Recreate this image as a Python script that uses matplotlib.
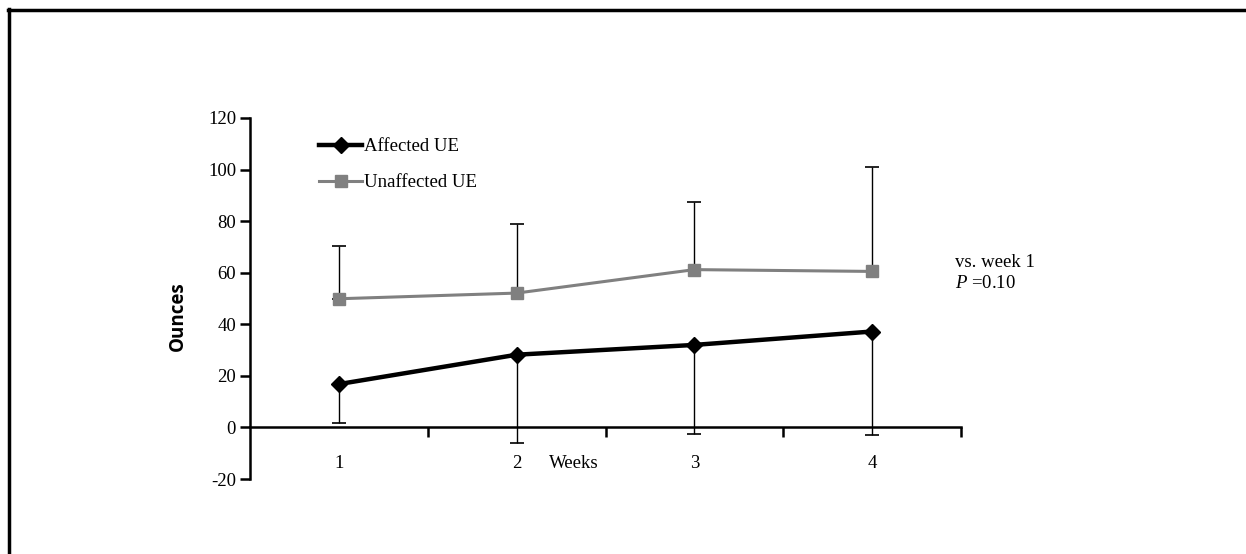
import matplotlib
matplotlib.use("Agg")
import matplotlib.pyplot as plt
from matplotlib.lines import Line2D

weeks = [1, 2, 3, 4]
week_labels = ["1", "2", "3", "4"]
affected = [16.8, 28.2, 32.0, 37.2]
affected_sd = [15.2, 34.1, 34.5, 40.2]
unaffected = [49.9, 52.1, 61.2, 60.5]
unaffected_sd = [20.5, 26.9, 26.2, 40.5]
yticks = [-20, 0, 20, 40, 60, 80, 100, 120]

plt.rcParams["font.family"] = ["Liberation Serif", "DejaVu Serif"]
plt.rcParams["mathtext.fontset"] = "custom"
plt.rcParams["mathtext.it"] = "Liberation Serif:italic"
FS = 13.5

fig = plt.figure(figsize=(12.46, 5.54), dpi=100)
ax = fig.add_axes([250/1246, 1-479/554, (961-250)/1246, (479-118)/554])

# error bars (one-sided)
ax.errorbar(weeks, affected, yerr=[affected_sd, [0]*4], fmt="none",
            ecolor="black", elinewidth=1.0, capsize=5, capthick=1.2, zorder=2)
ax.errorbar(weeks, unaffected, yerr=[[0]*4, unaffected_sd], fmt="none",
            ecolor="black", elinewidth=1.0, capsize=5, capthick=1.2, zorder=2)

ax.plot(weeks, unaffected, color="#808080", lw=2.2, marker="s", ms=9,
        mfc="#808080", mec="#808080", zorder=3)
ax.plot(weeks, affected, color="black", lw=3.2, marker="D", ms=8,
        mfc="black", mec="black", zorder=4)

ax.set_xlim(0.5, 4.5)
ax.set_ylim(-20, 120)
ax.set_yticks(yticks)
ax.set_yticklabels([str(v) for v in yticks])

ax.set_xticks(weeks)
ax.set_xticklabels(week_labels)
ax.set_xticks([1.5, 2.5, 3.5, 4.5], minor=True)
ax.tick_params(axis="x", which="major", length=0, pad=20, labelsize=FS)
ax.tick_params(axis="x", which="minor", length=7, width=1.8, direction="out")
ax.tick_params(axis="y", length=7, width=1.8, direction="out", pad=3, labelsize=FS)

for s in ["top", "right"]:
    ax.spines[s].set_visible(False)
ax.spines["left"].set_linewidth(1.8)
ax.spines["bottom"].set_linewidth(1.8)
ax.spines["bottom"].set_position(("data", 0))

ax.set_ylabel("Ounces", fontfamily=["Open Sans", "DejaVu Sans"], fontweight="bold",
              fontsize=13.5)
ax.yaxis.set_label_coords(-0.087, 0.452)

handles = [Line2D([0], [0], color="black", lw=3.2, marker="D", ms=8),
           Line2D([0], [0], color="#808080", lw=2.2, marker="s", ms=9)]
ax.legend(handles, ["Affected UE", "Unaffected UE"], loc="upper left",
          bbox_to_anchor=(0.087, 0.965), frameon=False, handlelength=2.3,
          handletextpad=0.1, labelspacing=1.0, borderaxespad=0,
          prop={"size": FS})

fig.text(549/1246, 1-463/554, "Weeks", fontsize=FS, ha="left", va="center")
fig.text(955/1246, 1-262/554, "vs. week 1", fontsize=FS, ha="left", va="center")
fig.text(955/1246, 1-284/554, r"$\it{P}$ =0.10", fontsize=FS, ha="left", va="center")

# partial border (top and left)
fig.add_artist(Line2D([8/1246, 1], [1-10/554, 1-10/554], color="black", lw=2.5,
                      transform=fig.transFigure))
fig.add_artist(Line2D([9/1246, 9/1246], [0, 1-9/554], color="black", lw=2.5,
                      transform=fig.transFigure))

fig.savefig("out.png", dpi=100)
